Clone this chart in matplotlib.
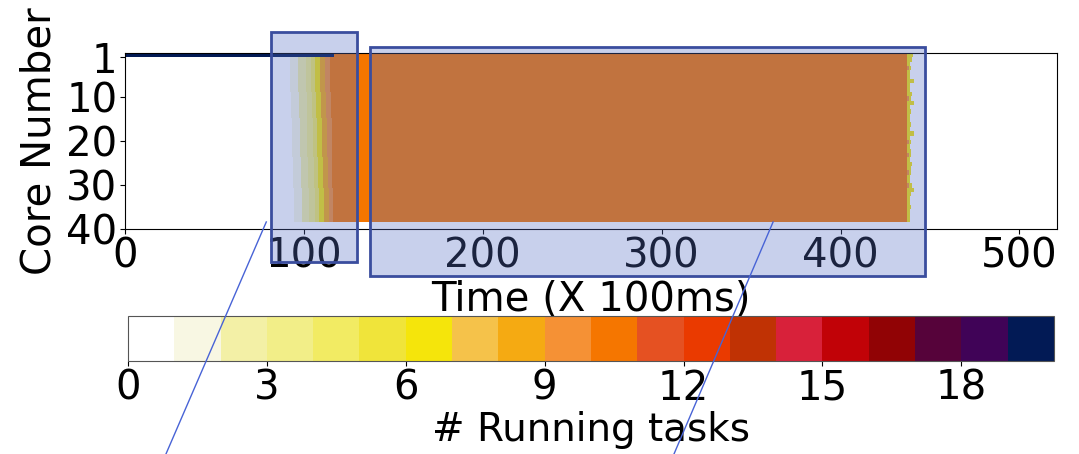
import numpy as np
import matplotlib as mpl
mpl.use('Agg')
import matplotlib.pyplot as plt
from matplotlib.colors import ListedColormap, BoundaryNorm
from matplotlib.patches import Rectangle
from matplotlib.lines import Line2D

# one colour per number of running tasks (0..19)
task_colors = ['#FFFFFF', '#F8F7E3', '#F3F0A6', '#F2EE88', '#F2EB63', '#F0E43A',
               '#F5E50B', '#F5C24A', '#F5AA12', '#F59135', '#F57600', '#E55122',
               '#EA3A00', '#C03204', '#D8213A', '#C10207', '#910305', '#56033A',
               '#400357', '#021A55']

t_max = 521
n_rows = 39

# row 0: the launcher core, busy with 19 tasks until the workers start
launcher_tasks = 19
launcher_end = 117

# warm-up steps shared by every core (time, tasks running from then on)
ramp_start = [92.5, 97.0, 101.0, 104.0, 106.5, 109.0, 112.0, 114.5]
ramp_tasks = [1, 2, 3, 4, 6, 8, 9, 10]
steady_tasks = 10
steady_end = 437.0

# how much later each core goes through the warm-up
ramp_delay = [0, 0, 0, 0, 0, 0, 0, 0, 0, 0.5, 0.5, 0.5, 0.5, 0.5,
              0.5, 1, 1, 1, 1, 1, 1, 1, 1, 1, 1.5, 1.5, 1.5, 1.5,
              1.5, 1.5, 1.5, 2, 2, 2, 2, 2, 2, 2, 2]

# ragged finish: a short orange bit on some cores, then a yellow tail
tail_orange = [0, 0, 0, 1, 0, 0, 0, 0, 0, 0, 1, 0, 0, 0, 0, 0, 0, 0, 0, 0,
               1, 0, 0, 1, 0, 0, 0, 1, 0, 0, 1, 0, 0, 0, 0, 0, 0, 0, 0]
tail_end = [440.5, 440.0, 439.0, 439.5, 439.0, 439.0, 441.0, 439.0, 439.0, 440.0,
            439.5, 441.0, 439.0, 439.5, 439.0, 439.0, 439.5, 439.0, 441.0, 439.0,
            439.5, 439.0, 439.5, 439.5, 439.0, 440.0, 439.5, 439.5, 439.0, 439.0,
            440.0, 441.0, 439.5, 439.0, 439.0, 439.5, 439.0, 439.0, 439.0]

# highlighted windows (time range, core range)
zoom_t = [(81.7, 129.8), (137.2, 447.4)]
zoom_core = [(-4.8, 47.5), (-1.4, 50.7)]
# connector lines towards the zoomed views below
link_t = [(79.0, 22.0), (362.3, 306.0)]
link_core = [(38.4, 92.0), (38.4, 92.0)]

t_edges = np.arange(0, t_max + 0.5, 0.5)
t_mid = t_edges[:-1] + 0.25
y_edges = np.linspace(0, 38.5, n_rows + 1)

grid = np.zeros((n_rows, len(t_mid)))
for r in range(n_rows):
    row = np.zeros(len(t_mid))
    for start, lvl in zip(ramp_start, ramp_tasks):
        row[t_mid >= start + ramp_delay[r]] = lvl
    row[t_mid >= steady_end] = 0
    row[(t_mid >= steady_end) & (t_mid < tail_end[r])] = 6
    row[(t_mid >= steady_end) & (t_mid < steady_end + tail_orange[r])] = 9
    if r == 0:
        row[t_mid < launcher_end] = launcher_tasks
        row[(t_mid >= launcher_end) & (t_mid < steady_end)] = steady_tasks
    grid[r] = row

cmap = ListedColormap(task_colors)
norm = BoundaryNorm(np.arange(0, 21), cmap.N)

fig = plt.figure(figsize=(10.79, 4.54), dpi=100)
ax = fig.add_axes([0.1158, 0.4956, 0.8638, 0.3877])
mesh = ax.pcolormesh(t_edges, y_edges, grid, cmap=cmap, norm=norm)
ax.set_xlim(0, t_max)
ax.set_ylim(40, 0)
ax.set_yticks([1, 10, 20, 30, 40])
ax.set_xticks([0, 100, 200, 300, 400, 500])
ax.tick_params(labelsize=29, pad=2)
ax.set_xlabel('Time (X 100ms)', fontsize=29, labelpad=2)
ax.set_ylabel('Core Number', fontsize=29, labelpad=5)

for (t0, t1), (c0, c1) in zip(zoom_t, zoom_core):
    ax.add_patch(Rectangle((t0, c0), t1 - t0, c1 - c0, facecolor='#566EC5',
                           alpha=0.32, edgecolor='none', clip_on=False, zorder=5))
    ax.add_patch(Rectangle((t0, c0), t1 - t0, c1 - c0, facecolor='none',
                           edgecolor='#3A4D9E', lw=2, clip_on=False, zorder=6))

cax = fig.add_axes([0.1186, 0.2048, 0.8582, 0.0998])
cb = fig.colorbar(mesh, cax=cax, orientation='horizontal', ticks=range(0, 19, 3))
cb.minorticks_off()
cb.outline.set_edgecolor('#555555')
cb.ax.tick_params(labelsize=29, pad=2)
cb.set_label('# Running tasks', fontsize=28, labelpad=2)

for xs, ys in zip(link_t, link_core):
    fig.add_artist(Line2D(xs, ys, transform=ax.transData, color='#4863D6',
                          lw=1, clip_on=False, zorder=10))

fig.savefig('out.png', dpi=100)
